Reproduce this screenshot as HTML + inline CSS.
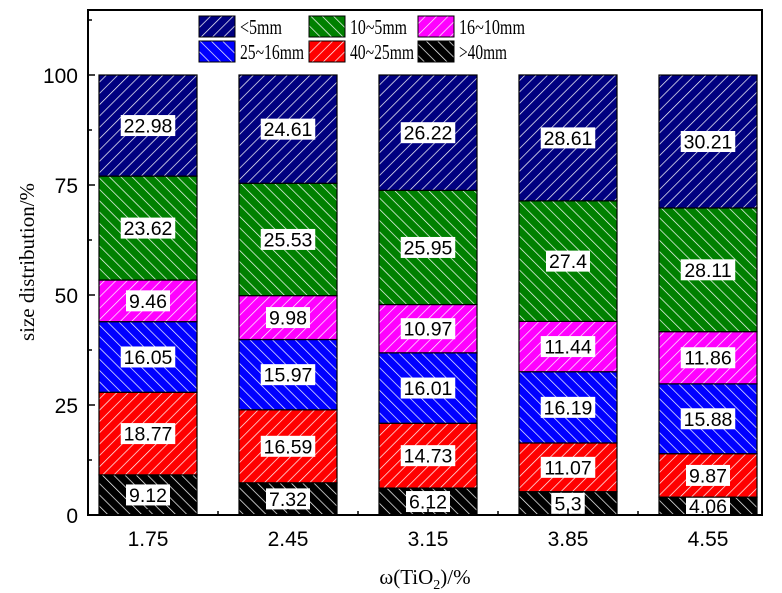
<!DOCTYPE html>
<html><head><meta charset="utf-8"><style>
body{margin:0;background:#fff}
svg{display:block}
</style></head><body>
<svg id="chart" width="782" height="593" xmlns="http://www.w3.org/2000/svg">
<defs>
<pattern id="hb" patternUnits="userSpaceOnUse" width="8" height="8" patternTransform="rotate(45)"><rect width="8" height="8" fill="#000080"/><line x1="0" y1="0" x2="0" y2="8" stroke="#fff" stroke-width="1.4"/></pattern>
<pattern id="hg" patternUnits="userSpaceOnUse" width="8" height="8" patternTransform="rotate(-45)"><rect width="8" height="8" fill="#008000"/><line x1="0" y1="0" x2="0" y2="8" stroke="#fff" stroke-width="1.4"/></pattern>
<pattern id="hm" patternUnits="userSpaceOnUse" width="8" height="8" patternTransform="rotate(45)"><rect width="8" height="8" fill="#ff00ff"/><line x1="0" y1="0" x2="0" y2="8" stroke="#fff" stroke-width="1.4"/></pattern>
<pattern id="hu" patternUnits="userSpaceOnUse" width="8" height="8" patternTransform="rotate(-45)"><rect width="8" height="8" fill="#0000ff"/><line x1="0" y1="0" x2="0" y2="8" stroke="#fff" stroke-width="1.4"/></pattern>
<pattern id="hr" patternUnits="userSpaceOnUse" width="8" height="8" patternTransform="rotate(45)"><rect width="8" height="8" fill="#ff0000"/><line x1="0" y1="0" x2="0" y2="8" stroke="#fff" stroke-width="1.4"/></pattern>
<pattern id="hk" patternUnits="userSpaceOnUse" width="8" height="8" patternTransform="rotate(-45)"><rect width="8" height="8" fill="#000"/><line x1="0" y1="0" x2="0" y2="8" stroke="#fff" stroke-width="1.4"/></pattern>
</defs>
<g id="bars"></g>
<g id="axes"></g>
<g id="legend"></g>
</svg>
<script>
const categories = ["1.75","2.45","3.15","3.85","4.55"];
const seriesNames = [">40mm","40~25mm","25~16mm","16~10mm","10~5mm","<5mm"];
const s40 = [9.12,7.32,6.12,5.3,4.06];
const s25 = [18.77,16.59,14.73,11.07,9.87];
const s16 = [16.05,15.97,16.01,16.19,15.88];
const s10 = [9.46,9.98,10.97,11.44,11.86];
const s5 = [23.62,25.53,25.95,27.4,28.11];
const sLt5 = [22.98,24.61,26.22,28.61,30.21];
const yTicks = [0,25,50,75,100];
const series = [s40,s25,s16,s10,s5,sLt5];
const fills = ["url(#hk)","url(#hr)","url(#hu)","url(#hm)","url(#hg)","url(#hb)"];
const NS="http://www.w3.org/2000/svg";
const L=88,R=762,T=10,B=515;
const y=v=>B-v*4.4;
const x=i=>148+i*140;
const bw=98;
function mk(tag,attrs,parent){const e=document.createElementNS(NS,tag);for(const k in attrs)e.setAttribute(k,attrs[k]);parent.appendChild(e);return e;}
const gb=document.getElementById('bars'),ga=document.getElementById('axes'),gl=document.getElementById('legend');
categories.forEach((c,i)=>{
  let cum=0;
  series.forEach((s,j)=>{
    const v=s[i];
    const r=mk('rect',{x:x(i)-bw/2,y:y(cum+v),width:bw,height:y(cum)-y(cum+v),fill:fills[j],stroke:'#000','stroke-width':1.2},gb);
    
    
    const cy=(y(cum)+y(cum+v))/2;
    const txt=String(v);
    const w=txt.length*10.5+2;
    const bg=mk('rect',{x:x(i)-w/2,y:cy-10.5,width:w,height:21,fill:'#fff'},gb);
    
    
    const t=mk('text',{x:x(i),y:cy+7,'text-anchor':'middle','font-family':'Liberation Sans, sans-serif','font-size':19.5},gb);
    t.textContent=txt;
    
    
    cum+=v;
  });
  const tk=mk('text',{x:x(i),y:546,'text-anchor':'middle','font-family':'Liberation Sans, sans-serif','font-size':21},ga);
  tk.textContent=c;
  
  
  mk('line',{x1:x(i),x2:x(i),y1:B,y2:B-6,stroke:'#000','stroke-width':1.5},ga);
  if(i<categories.length-1){mk('line',{x1:x(i)+70,x2:x(i)+70,y1:B,y2:B-4,stroke:'#000','stroke-width':1.5},ga);}
});
const fr=mk('rect',{x:L,y:T,width:R-L,height:B-T,fill:'none',stroke:'#000','stroke-width':2},ga);


yTicks.forEach(v=>{
  mk('line',{x1:L,x2:L+7,y1:y(v),y2:y(v),stroke:'#000','stroke-width':1.5},ga);
  mk('line',{x1:L,x2:L+4,y1:y(v+12.5),y2:y(v+12.5),stroke:'#000','stroke-width':1.5},ga);
  const t=mk('text',{x:L-10,y:y(v)+8,'text-anchor':'end','font-family':'Liberation Sans, sans-serif','font-size':21},ga);
  t.textContent=v;
  
  
});
const yt=mk('text',{x:0,y:0,transform:'translate(34,262) rotate(-90)','text-anchor':'middle','font-family':'Liberation Serif, serif','font-size':21},ga);
yt.textContent='size distribution/%';


const xt=mk('text',{x:425,y:584,'text-anchor':'middle','font-family':'Liberation Serif, serif','font-size':21},ga);
xt.innerHTML='ω(TiO<tspan font-size="14" dy="5">2</tspan><tspan dy="-5">)/%</tspan>';


const legOrder=[5,4,3,2,1,0];
const lx=[199,309,418],ly=[16,41];
legOrder.forEach((j,k)=>{
  const cx=lx[k%3],cy=ly[Math.floor(k/3)];
  const r=mk('rect',{x:cx,y:cy,width:36,height:21,fill:fills[j],stroke:'#000','stroke-width':1},gl);
  
  
  const t=mk('text',{x:cx+41,y:cy+18,'font-family':'Liberation Serif, serif','font-size':21},gl);
  t.textContent=seriesNames[j];
  const len={"<5mm":42,"10~5mm":57,"16~10mm":66,"25~16mm":64,"40~25mm":64,">40mm":48}[seriesNames[j]];
  t.setAttribute('textLength',len);
  t.setAttribute('lengthAdjust','spacingAndGlyphs');
  
  
});
</script>
</body></html>
